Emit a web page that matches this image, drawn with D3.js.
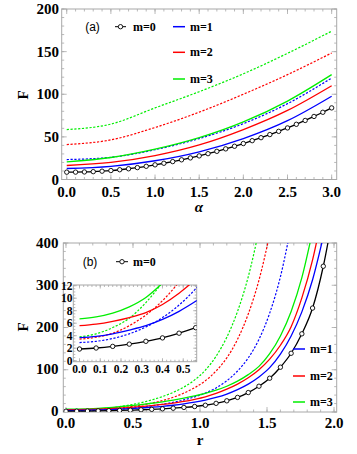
<!DOCTYPE html>
<html><head><meta charset="utf-8">
<script src="https://cdn.jsdelivr.net/npm/d3@7"></script>
<style>body{margin:0;background:#fff}svg{display:block}</style>
</head><body><svg id="c" width="357" height="454"></svg>
<script>
// ---------- DATA: panel (a) ----------
const alphaFine = [0,0.1,0.2,0.3,0.4,0.5,0.6,0.7,0.8,0.9,1.0,1.1,1.2,1.3,1.4,1.5,1.6,1.7,1.8,1.9,2.0,2.1,2.2,2.3,2.4,2.5,2.6,2.7,2.8,2.9,3.0];
const aM0 = [8.6,8.65,8.85,9.2,9.75,10.5,11.45,12.6,13.95,15.5,17.2,19.05,21.0,23.1,25.35,27.7,30.3,33.05,35.95,39.0,42.2,45.55,49.05,52.7,56.5,60.5,64.75,69.25,73.95,78.85,84.0];
const alphaCoarse = [0,0.5,1.0,1.5,2.0,2.5,3.0];
const aM1 = [12.9,15.5,22,32.5,48,69,97.7];
const aM2 = [16.4,20,28,40.5,58.5,81,110];
const aM3 = [20.7,25.8,35.5,49,67.5,92,123];
const aM1d = [23.4,26.0,35,48,65.5,89,119];
const aM2d = [41,46.5,61,79,100,123,148.4];
const aM3d = [58.6,65,84,103,124,148,174];
const aXTicks = ["0.0","0.5","1.0","1.5","2.0","2.5","3.0"];
const aYTicks = [0,50,100,150,200];

// ---------- DATA: panel (b) ----------
const rGrid = [0,0.08,0.16,0.24,0.32,0.40,0.48,0.56,0.64,0.72,0.80,0.88,0.96,1.04,1.12,1.20,1.28,1.36,1.44,1.52,1.60,1.68,1.76,1.84,1.92,2.00];
const bM0  = [1.87,2.03,2.29,2.65,3.1,3.65,4.4,5.28,6.3,7.5,9.0,10.8,13.0,16.0,20.5,26.5,34.5,46,61,80,106,139,185,246,345,480];
const bM1  = [3.7,3.9,4.3,4.9,5.6,6.6,7.9,9.5,11.3,13.4,16,19.2,23.2,28.2,34.5,42.5,53,66,83,105,137,180,237,313,415,null];
const bM2  = [5.6,5.85,6.3,6.9,7.7,9.0,10.8,13.0,15.3,18.0,21.2,25,30,36,44,54,66,81,100,125,158,202,270,360,480,null];
const bM3  = [6.7,7.0,7.6,8.6,10.1,12.4,14.9,17.6,20.7,24.2,28.2,32.8,38.0,44,51.5,61,73,88.5,108,138,180,238,318,428,null,null];
const bM1d = [2.9,3.1,3.55,4.3,5.4,6.9,8.9,11.5,14.6,18.4,23.0,28.7,35.8,45,57,74,97,128,172,234,320,440,null,null,null,null];
const bM2d = [3.45,3.75,4.4,5.6,7.3,9.6,12.6,16.3,21,27,34.8,44.8,57.5,74,97,128,172,232,312,420,null,null,null,null,null,null];
const bM3d = [3.8,4.3,5.3,6.8,9.3,12.6,16.8,22,28.5,36.5,46.5,59,76,99,132,177,238,320,430,null,null,null,null,null,null,null];
const bXTicks = ["0.0","0.5","1.0","1.5","2.0"];
const bYTicks = [0,100,200,300,400];
const insXTicks = ["0.0","0.1","0.2","0.3","0.4","0.5"];
const insYTicks = [0,2,4,6,8,10,12];

const BLUE="#0000ff", RED="#ff0000", GREEN="#00ee00", FRAME="#a8a8a8";
const SERIF="'Liberation Serif','Times New Roman',serif";
const SANS="'Liberation Sans',Arial,sans-serif";

const svg = d3.select("#c");
svg.append("rect").attr("width",357).attr("height",454).attr("fill","#fff");

function zip(xs, ys){ return xs.map((x,i)=>({x:x, y:ys[i]})); }

function drawFrame(g, x, y, xMaj, xMin, yMaj, yMin, majL, minL, id, fill){
  const [x0,x1] = x.range(), [y0,y1] = y.range();
  g.append("rect").attr("x",x0).attr("y",y1).attr("width",x1-x0).attr("height",y0-y1)
    .attr("fill",fill?"#fff":"none").attr("stroke",FRAME).attr("stroke-width",1);
  const t = g.append("g").attr("stroke",FRAME).attr("stroke-width",0.8);
  const addX = (v,L)=>{ const px=x(v); if(px<x0||px>x1) return;
    t.append("line").attr("x1",px).attr("x2",px).attr("y1",y0).attr("y2",y0-L);
    t.append("line").attr("x1",px).attr("x2",px).attr("y1",y1).attr("y2",y1+L); };
  const addY = (v,L)=>{ const py=y(v); if(py>y0+0.1||py<y1-0.1) return;
    t.append("line").attr("x1",x0).attr("x2",x0+L).attr("y1",py).attr("y2",py);
    t.append("line").attr("x1",x1).attr("x2",x1-L).attr("y1",py).attr("y2",py); };
  xMin.forEach(v=>addX(v,minL)); xMaj.forEach(v=>addX(v,majL));
  yMin.forEach(v=>addY(v,minL)); yMaj.forEach(v=>addY(v,majL));
  g.append("clipPath").attr("id",id).append("rect")
    .attr("x",x0).attr("y",y1).attr("width",x1-x0).attr("height",y0-y1);
}

function series(g, x, y, xs, ys, color, dashed, curve){
  const line = d3.line().defined(d=>d.y!=null).x(d=>x(d.x)).y(d=>y(d.y)).curve(curve||d3.curveMonotoneX);
  g.append("path").attr("d", line(zip(xs,ys))).attr("fill","none")
    .attr("stroke",color).attr("stroke-width",dashed?1.2:1.3)
    .attr("stroke-dasharray", dashed ? "2.2,1.6" : null);
}
function markers(g, x, y, xs, ys, r){
  g.selectAll(null).data(zip(xs,ys).filter(d=>d.y!=null)).enter().append("circle")
    .attr("cx",d=>x(d.x)).attr("cy",d=>y(d.y)).attr("r",r)
    .attr("fill","#fff").attr("stroke","#000").attr("stroke-width",0.9);
}
function steps(a,b,s){ const out=[]; for(let v=a; v<=b+1e-9; v+=s) out.push(+v.toFixed(4)); return out; }

// ================= Panel (a) =================
const xA = d3.scaleLinear().domain([-0.057,3.057]).range([61.7,336.7]);
const yA = d3.scaleLinear().domain([0,200]).range([179.5,9]);
const gA = svg.append("g");
drawFrame(gA, xA, yA, aXTicks.map(Number), steps(0,3,0.1), aYTicks, steps(0,200,10), 5, 2.5, "clipA");
const pA = gA.append("g").attr("clip-path","url(#clipA)");
series(pA,xA,yA,alphaCoarse,aM3d,GREEN,true);
series(pA,xA,yA,alphaCoarse,aM2d,RED,true);
series(pA,xA,yA,alphaCoarse,aM1d,BLUE,true);
series(pA,xA,yA,alphaCoarse,aM3,GREEN,false);
series(pA,xA,yA,alphaCoarse,aM2,RED,false);
series(pA,xA,yA,alphaCoarse,aM1,BLUE,false);
series(pA,xA,yA,alphaFine,aM0,"#000",false);
markers(pA,xA,yA,alphaFine,aM0,2.2);

gA.selectAll(null).data(aXTicks).enter().append("text")
  .attr("x",d=>xA(+d)).attr("y",197).attr("text-anchor","middle")
  .attr("font-family",SERIF).attr("font-weight","bold").attr("font-size",15).text(d=>d);
gA.selectAll(null).data(aYTicks).enter().append("text")
  .attr("x",59).attr("y",d=>yA(d)+5).attr("text-anchor","end")
  .attr("font-family",SERIF).attr("font-weight","bold").attr("font-size",15).text(d=>d);
gA.append("text").attr("transform","translate(28,95) rotate(-90)").attr("text-anchor","middle")
  .attr("font-family",SERIF).attr("font-weight","bold").attr("font-size",15).text("F");
gA.append("text").attr("x",199).attr("y",212).attr("text-anchor","middle")
  .attr("font-family",SERIF).attr("font-weight","bold").attr("font-style","italic").attr("font-size",15).text("α");
gA.append("text").attr("x",92.5).attr("y",31).attr("text-anchor","middle")
  .attr("font-family",SANS).attr("font-size",12).text("(a)");

function legendItem(g, x1, x2, y, color, label, tx, withMarker){
  g.append("line").attr("x1",x1).attr("x2",x2).attr("y1",y).attr("y2",y)
    .attr("stroke",color).attr("stroke-width",withMarker?1:1.5);
  if(withMarker) g.append("circle").attr("cx",(x1+x2)/2).attr("cy",y).attr("r",2.2)
    .attr("fill","#fff").attr("stroke","#000").attr("stroke-width",0.9);
  g.append("text").attr("x",tx).attr("y",y+4).attr("font-family",SERIF)
    .attr("font-weight","bold").attr("font-size",12).text(label);
}
legendItem(gA,115,126,26.7,"#000","m=0",133,true);
legendItem(gA,173,185,26.7,BLUE,"m=1",190,false);
legendItem(gA,173,185,52.3,RED,"m=2",190,false);
legendItem(gA,173,185,79,GREEN,"m=3",190,false);

// ================= Panel (b) =================
const xB = d3.scaleLinear().domain([-0.02,2.02]).range([63.3,336.7]);
const yB = d3.scaleLinear().domain([0,400]).range([412,243]);
const gB = svg.append("g");
drawFrame(gB, xB, yB, bXTicks.map(Number), steps(0,2,0.1), bYTicks, steps(0,400,20), 5, 2.5, "clipB");
const pB = gB.append("g").attr("clip-path","url(#clipB)");
function allSeries(p, x, y, mr){
  series(p,x,y,rGrid,bM3d,GREEN,true);
  series(p,x,y,rGrid,bM2d,RED,true);
  series(p,x,y,rGrid,bM1d,BLUE,true);
  series(p,x,y,rGrid,bM3,GREEN,false);
  series(p,x,y,rGrid,bM2,RED,false);
  series(p,x,y,rGrid,bM1,BLUE,false);
  series(p,x,y,rGrid,bM0,"#000",false);
  markers(p,x,y,rGrid,bM0,mr);
}
allSeries(pB,xB,yB,2.2);

gB.selectAll(null).data(bXTicks).enter().append("text")
  .attr("x",d=>xB(+d)).attr("y",427.5).attr("text-anchor","middle")
  .attr("font-family",SERIF).attr("font-weight","bold").attr("font-size",15).text(d=>d);
gB.selectAll(null).data(bYTicks).enter().append("text")
  .attr("x",58.5).attr("y",d=>yB(d)+(d===0?3.5:4.5)).attr("text-anchor","end")
  .attr("font-family",SERIF).attr("font-weight","bold").attr("font-size",15).text(d=>d);
gB.append("text").attr("transform","translate(28,327) rotate(-90)").attr("text-anchor","middle")
  .attr("font-family",SERIF).attr("font-weight","bold").attr("font-size",15).text("F");
gB.append("text").attr("x",200).attr("y",444.5).attr("text-anchor","middle")
  .attr("font-family",SERIF).attr("font-weight","bold").attr("font-size",15).text("r");
gB.append("text").attr("x",90).attr("y",266).attr("text-anchor","middle")
  .attr("font-family",SANS).attr("font-size",12).text("(b)");
legendItem(gB,116,128,261.7,"#000","m=0",133,true);
legendItem(gB,293,305,349,BLUE,"m=1",310,false);
legendItem(gB,293,305,376,RED,"m=2",310,false);
legendItem(gB,293,305,402,GREEN,"m=3",310,false);

// ---------- inset ----------
const xI = d3.scaleLinear().domain([-0.03,0.565]).range([73.3,196.7]);
const yI = d3.scaleLinear().domain([-0.16,12.11]).range([361.7,285]);
const gI = svg.append("g");
drawFrame(gI, xI, yI, insXTicks.map(Number), steps(0,0.56,0.02), insYTicks, steps(0,12,0.5), 3.5, 2, "clipI", true);
const pI = gI.append("g").attr("clip-path","url(#clipI)");
allSeries(pI,xI,yI,2.2);
gI.selectAll(null).data(insXTicks).enter().append("text")
  .attr("x",d=>xI(+d)).attr("y",373).attr("text-anchor","middle")
  .attr("font-family",SERIF).attr("font-weight","bold").attr("font-size",11.5).text(d=>d);
gI.selectAll(null).data(insYTicks).enter().append("text")
  .attr("x",72.5).attr("y",d=>yI(d)+4).attr("text-anchor","end")
  .attr("font-family",SERIF).attr("font-weight","bold").attr("font-size",11.5).text(d=>d);
</script></body></html>
